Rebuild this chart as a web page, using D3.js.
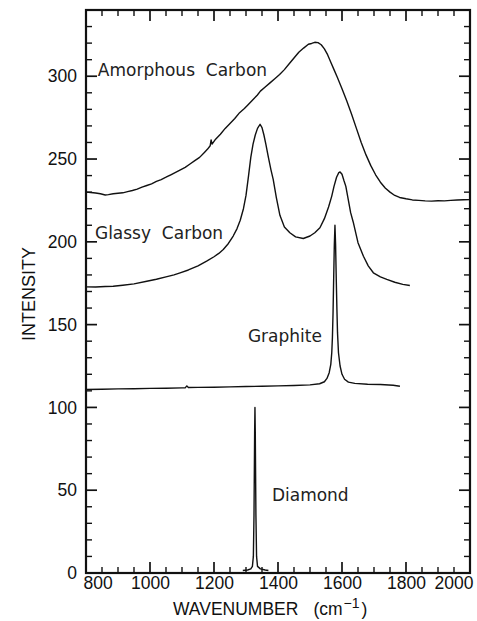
<!DOCTYPE html>
<html><head><meta charset="utf-8">
<script src="https://cdn.jsdelivr.net/npm/d3@7"></script>
<style>
html,body{margin:0;padding:0;background:#fff;}
svg{display:block;}
</style></head>
<body>
<svg id="c" width="477" height="621"></svg>
<script>
// ---------- data ----------
const xTickLabels = [800, 1000, 1200, 1400, 1600, 1800, 2000];
const yTickLabels = [0, 50, 100, 150, 200, 250, 300];

const amorphousX = [800,815,830,845,860,870,885,900,915,930,945,960,975,990,1005,1020,1035,1050,1065,1080,1095,1110,1125,1140,1155,1170,1180,1188,1191,1194,1205,1220,1235,1250,1265,1280,1295,1305,1320,1335,1345,1360,1375,1390,1405,1420,1435,1450,1465,1480,1495,1505,1515,1525,1535,1545,1555,1565,1575,1585,1600,1615,1630,1645,1660,1675,1690,1705,1720,1735,1750,1765,1780,1800,1820,1840,1860,1880,1900,1920,1940,1960,1980,2000];
const amorphousY = [230,229.8,229.5,229,228.3,228.5,229,229.3,229.6,230.3,231,231.8,233,234,235,236.5,237.6,239,240.5,242,243.5,245,247,249,251,254,256,258,261.5,259,262,265,268.5,271.5,274.5,278,280.5,282.5,285.5,288.5,291,293.5,296,298.5,301,304,307.5,311,314.5,317,319.3,319.8,320.5,320.3,319,316.5,313,308.5,304,299.5,292.5,285,277,268.5,260,252.5,246,240.5,236,232.5,230,228,226.8,226,225.3,225,224.7,224.6,224.8,224.7,225,225.3,225.4,225.5];

const glassyX = [800,830,860,885,915,950,990,1020,1050,1075,1094,1120,1150,1177,1200,1215,1229,1245,1260,1272,1282,1292,1300,1308,1315,1322,1329,1336,1344,1350,1356,1362,1370,1378,1385,1395,1406,1420,1437,1455,1479,1500,1515,1531,1545,1558,1568,1575,1583,1590,1594,1600,1606,1612,1620,1627,1635,1650,1667,1682,1698,1720,1740,1765,1790,1812];
const glassyY = [172.8,172.7,173,173.2,173.8,174.6,176.2,177.4,178.8,180,181.3,183,185.5,188.3,191,193,195.4,199,203.5,208,213,220,228,240,251,259,264.5,268.5,271,269,264.5,259,251,243.5,237.7,226.5,216,209,205.5,203,202,203.5,205.5,208.5,214,221,227.6,233.5,239,241.8,242.2,240.8,237,233.5,225,217.6,212,199.5,191.3,185.5,181.3,178.8,177.3,175.6,174.3,173.6];

const graphiteX = [800,850,900,950,1000,1050,1100,1110,1115,1120,1150,1200,1250,1300,1350,1400,1450,1500,1530,1545,1553,1560,1565,1568,1570,1572,1574,1576,1578,1580,1582,1584,1586,1589,1594,1600,1608,1620,1640,1680,1720,1760,1781];
const graphiteY = [110.8,111,111.2,111.3,111.5,111.6,111.8,111.8,113,112,112.1,112.2,112.4,112.6,112.8,113,113.2,113.6,114.3,115.5,117.5,121,126,133,142,157,178,198,210,198,178,160,145,133,125,120,117,115.3,114.5,114,113.8,113.4,112.8];

const diamondX = [1290,1305,1315,1320,1323,1325,1327,1328,1329,1331,1333,1336,1345,1360,1370];
const diamondY = [1.5,1.8,2.5,4,10,35,85,100,85,35,10,4,2.5,1.8,1.5];

const seriesNames = ["Amorphous  Carbon", "Glassy  Carbon", "Graphite", "Diamond"];
const labelX = [837, 828, 1306, 1381];
const labelY = [300, 202, 139.7, 43.5];

// ---------- chart ----------
const svg = d3.select("#c");
const L = 86, R = 470, T = 10, B = 573;
const x = d3.scaleLinear().domain([800, 2000]).range([L, R]);
const y = d3.scaleLinear().domain([0, 340]).range([B, T]);

const xMinor = d3.range(800, 2001, 50).filter(v => v % 200 !== 0);
const yMinor = d3.range(0, 341, 10).filter(v => v % 50 !== 0);
const yMajorAll = d3.range(0, 341, 50);
const fmt = d3.format("d");

// frame
svg.append("rect").attr("x", L).attr("y", T).attr("width", R - L).attr("height", B - T)
  .attr("fill", "none").attr("stroke", "#111").attr("stroke-width", 2.2);

// tick marks (positions from the scales)
const tickSpecs = [
  {vals: xMinor, len: 6, side: "bottom"}, {vals: xTickLabels, len: 11, side: "bottom"},
  {vals: xMinor, len: 6, side: "top"}, {vals: xTickLabels, len: 11, side: "top"},
  {vals: yMinor, len: 6, side: "left"}, {vals: yMajorAll, len: 11, side: "left"},
  {vals: yMinor, len: 6, side: "right"}, {vals: yMajorAll, len: 11, side: "right"}
];
const tg = svg.append("g").attr("stroke", "#111");
tickSpecs.forEach(s => {
  tg.append("g").selectAll("line").data(s.vals).join("line")
    .attr("stroke-width", s.len > 8 ? 1.7 : 1.4)
    .attr("x1", d => s.side === "left" ? L : s.side === "right" ? R : x(d))
    .attr("x2", d => s.side === "left" ? L + s.len : s.side === "right" ? R - s.len : x(d))
    .attr("y1", d => s.side === "bottom" ? B : s.side === "top" ? T : y(d))
    .attr("y2", d => s.side === "bottom" ? B - s.len : s.side === "top" ? T + s.len : y(d));
});

// tick labels via axes (no tick lines)
const bx = svg.append("g").attr("transform", `translate(0,${B})`)
  .call(d3.axisBottom(x).tickValues(xTickLabels).tickSize(0).tickPadding(4).tickFormat(fmt));
bx.select(".domain").remove();
bx.selectAll(".tick text").attr("fill", "#111")
  .attr("font-family", "Liberation Sans, Arial, sans-serif").attr("font-size", 17.5)
  .attr("text-anchor", (d, i) => i === 0 ? "start" : (i === xTickLabels.length - 1 ? "end" : "middle"))
  .attr("dx", (d, i) => i === 0 ? -3 : (i === xTickLabels.length - 1 ? 3 : 0));

const ly = svg.append("g").attr("transform", `translate(${L},0)`)
  .call(d3.axisLeft(y).tickValues(yTickLabels).tickSize(0).tickPadding(9).tickFormat(fmt));
ly.select(".domain").remove();
ly.selectAll(".tick text").attr("fill", "#111")
  .attr("font-family", "Liberation Sans, Arial, sans-serif").attr("font-size", 17.5);

// curves
const line = d3.line().x(d => x(d[0])).y(d => y(d[1]));
const series = [
  d3.zip(amorphousX, amorphousY),
  d3.zip(glassyX, glassyY),
  d3.zip(graphiteX, graphiteY),
  d3.zip(diamondX, diamondY)
];
svg.append("g").selectAll("path").data(series).join("path")
  .attr("d", line).attr("fill", "none").attr("stroke", "#111")
  .attr("stroke-width", 1.4).attr("stroke-linejoin", "round");

// series labels
svg.append("g").selectAll("text").data(seriesNames).join("text")
  .attr("x", (d, i) => x(labelX[i])).attr("y", (d, i) => y(labelY[i]))
  .attr("font-family", "DejaVu Sans, sans-serif").attr("font-size", 17)
  .style("white-space", "pre").attr("fill", "#222")
  .text(d => d);

// axis titles
const xt = svg.append("text").attr("x", 173).attr("y", 615)
  .attr("font-family", "Liberation Sans, Arial, sans-serif").attr("font-size", 17.5)
  .attr("fill", "#111");
xt.append("tspan").text("WAVENUMBER");
xt.append("tspan").attr("dx", 15).text("(cm");
xt.append("tspan").attr("dy", -7).attr("dx", 1).attr("font-size", 14).text("\u22121");
xt.append("tspan").attr("dy", 7).attr("dx", 2).text(")");

svg.append("text")
  .attr("transform", `translate(35,${294}) rotate(-90)`)
  .attr("text-anchor", "middle")
  .attr("font-family", "Liberation Sans, Arial, sans-serif").attr("font-size", 18)
  .attr("fill", "#111")
  .text("INTENSITY");
</script>
</body></html>
